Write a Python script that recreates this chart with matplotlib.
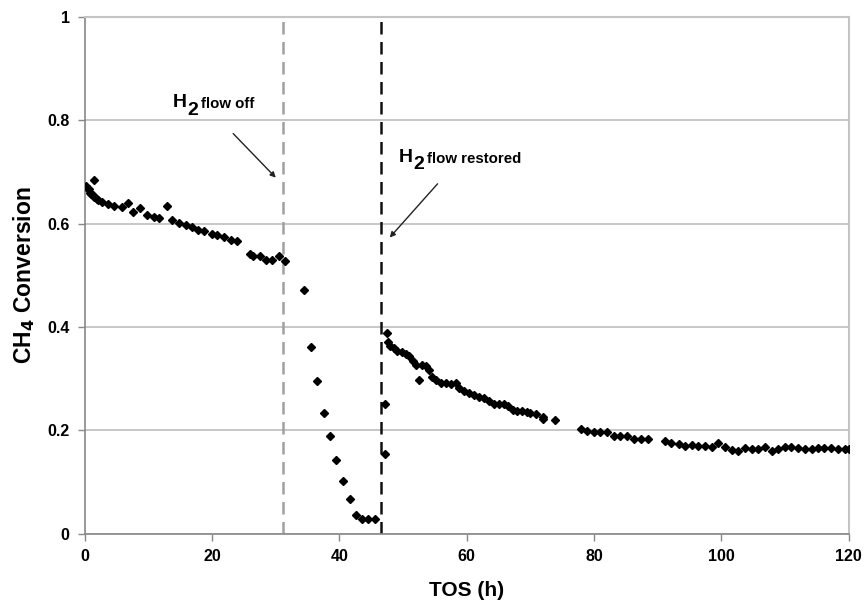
import matplotlib
matplotlib.use("Agg")
import matplotlib.pyplot as plt

plt.rcParams['font.family'] = ['Liberation Sans', 'DejaVu Sans']
plt.rcParams['mathtext.default'] = 'bf'

tos_h = [0.2, 0.4, 0.58, 0.8, 1.0, 1.36, 1.2, 1.5, 1.88, 2.1, 2.66, 3.71, 4.65, 5.8, 6.74,
         7.6, 8.67, 9.8, 10.8, 11.7, 12.85, 13.7, 14.8, 15.9, 16.8, 17.8, 18.75, 19.9,
         20.8, 21.8, 22.9, 23.9, 25.9, 26.4, 27.5, 28.4, 29.4, 30.5, 31.5,
         34.4, 35.5, 36.5, 37.5, 38.5, 39.5, 40.5, 41.6, 42.6, 43.5, 44.5, 45.6,
         47.2, 47.2, 47.4,
         47.6, 48.0, 48.5, 49.1, 49.8, 50.4, 50.97, 51.5, 52.0, 52.5, 52.9, 53.6, 54.1,
         54.6, 55.1, 55.9, 56.7, 57.5, 58.3, 58.8, 59.6, 60.4, 61.1, 61.9, 62.7, 63.5,
         64.3, 65.1, 65.8, 66.4, 67.2, 67.9, 68.7, 69.5, 70.0, 70.8, 71.9, 71.9, 73.8,
         77.9, 78.9, 80.0, 81.0, 82.0, 83.1, 84.1, 85.2, 86.3, 87.4, 88.4,
         91.2, 92.1, 93.3, 94.3, 95.4, 96.4, 97.4, 98.5, 99.5, 100.5, 101.6, 102.6,
         103.7, 104.8, 105.8, 106.8, 107.9, 108.9, 110.0, 111.0, 112.1, 113.1, 114.2,
         115.2, 116.2, 117.3, 118.3, 119.4, 120.0]
ch4_conversion = [0.672, 0.668, 0.667, 0.660, 0.657, 0.684, 0.655, 0.652, 0.647, 0.645, 0.641,
                  0.638, 0.634, 0.633, 0.640, 0.622, 0.630, 0.617, 0.613, 0.610, 0.635, 0.606,
                  0.602, 0.597, 0.594, 0.588, 0.585, 0.579, 0.578, 0.574, 0.569, 0.567, 0.542,
                  0.537, 0.538, 0.530, 0.529, 0.538, 0.528,
                  0.471, 0.362, 0.296, 0.234, 0.189, 0.142, 0.101, 0.067, 0.037, 0.029, 0.029,
                  0.029,
                  0.154, 0.250, 0.389,
                  0.370, 0.364, 0.359, 0.354, 0.351, 0.347, 0.343, 0.335, 0.327, 0.298, 0.326,
                  0.324, 0.317, 0.303, 0.298, 0.292, 0.292, 0.290, 0.292, 0.282, 0.276, 0.272,
                  0.268, 0.265, 0.262, 0.256, 0.250, 0.251, 0.250, 0.247, 0.240, 0.237, 0.238,
                  0.235, 0.233, 0.231, 0.226, 0.221, 0.219,
                  0.202, 0.199, 0.197, 0.196, 0.196, 0.189, 0.189, 0.189, 0.183, 0.183, 0.183,
                  0.179, 0.176, 0.173, 0.169, 0.171, 0.170, 0.169, 0.167, 0.176, 0.167, 0.161,
                  0.160, 0.166, 0.164, 0.164, 0.167, 0.160, 0.164, 0.167, 0.167, 0.165, 0.163,
                  0.163, 0.165, 0.165, 0.165, 0.163, 0.163, 0.163]

h2_off_time = 31.2
h2_restored_time = 46.5
x_ticks = [0, 20, 40, 60, 80, 100, 120]
y_ticks = [0, 0.2, 0.4, 0.6, 0.8, 1.0]
y_tick_labels = ["0", "0.2", "0.4", "0.6", "0.8", "1"]

fig = plt.figure(figsize=(8.66, 6.03), dpi=100)
ax = fig.add_axes([0.098, 0.115, 0.882, 0.857])

ax.set_xlim(0, 120)
ax.set_ylim(0, 1)
ax.set_xticks(x_ticks)
ax.set_yticks(y_ticks)
ax.set_yticklabels(y_tick_labels)
for t in ax.get_xticklabels() + ax.get_yticklabels():
    t.set_fontweight('bold')
    t.set_fontsize(11.5)
ax.tick_params(axis='both', direction='out', length=5, width=1, color='#888888', pad=6)

ax.yaxis.grid(True, color='#bdbdbd', linewidth=1.2)
ax.set_axisbelow(True)
for side in ['left', 'bottom']:
    ax.spines[side].set_color('#888888')
    ax.spines[side].set_linewidth(1.2)
for side in ['top', 'right']:
    ax.spines[side].set_color('#c4c4c4')
    ax.spines[side].set_linewidth(1.5)

ax.axvline(h2_off_time, color='#a0a0a0', linestyle=(0, (5, 3)), linewidth=1.8, zorder=2)
ax.axvline(h2_restored_time, color='#111111', linestyle=(0, (5, 3)), linewidth=1.8, zorder=2)

ax.plot(tos_h, ch4_conversion, linestyle='none', marker='D', markersize=4.5,
        color='black', zorder=3)

ax.set_xlabel("TOS (h)", fontsize=15, fontweight='bold', labelpad=12)
ax.set_ylabel("CH$_4$ Conversion", fontsize=16.5, fontweight='bold', labelpad=7)


def label(x, y, rest):
    t1 = ax.text(x, y, "H", fontsize=14, fontweight='bold', ha='left', va='baseline')
    t2 = ax.annotate("2", xy=(1, 0), xycoords=t1, xytext=(0.5, -5.5), textcoords='offset points',
                     fontsize=14, fontweight='bold', ha='left', va='bottom')
    ax.annotate(rest, xy=(1, 0), xycoords=t2, xytext=(2, 5.5), textcoords='offset points',
                fontsize=10.8, fontweight='bold', ha='left', va='bottom')


label(13.8, 0.825, "flow off")
label(49.3, 0.720, "flow restored")

ax.annotate("", xy=(30.3, 0.685), xytext=(23.0, 0.778),
            arrowprops=dict(arrowstyle='-|>', color='#222222', lw=1, mutation_scale=8))
ax.annotate("", xy=(47.6, 0.569), xytext=(55.7, 0.681),
            arrowprops=dict(arrowstyle='-|>', color='#222222', lw=1, mutation_scale=8))

fig.savefig("out.png", dpi=100)
